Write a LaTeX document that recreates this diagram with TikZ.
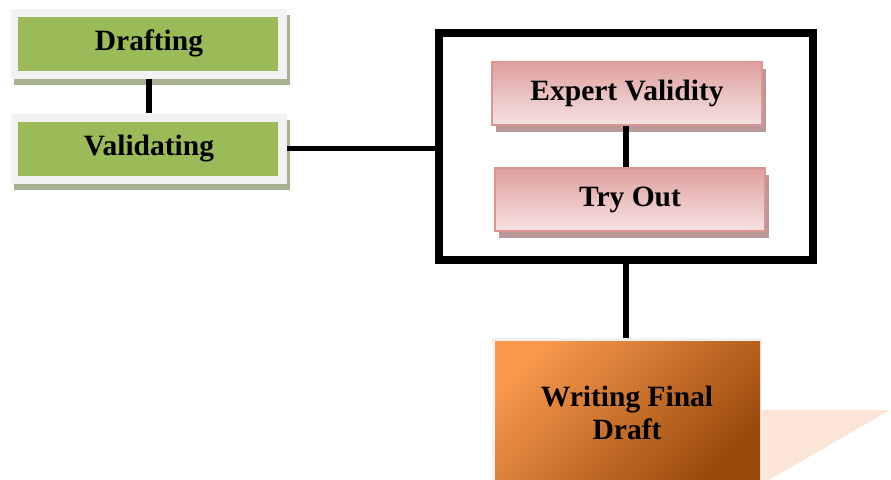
\documentclass[tikz,border=0pt]{standalone}
\usepackage{fontspec}
\setmainfont{Liberation Serif}
\usetikzlibrary{shadows}
\definecolor{framegray}{RGB}{242,242,242}
\definecolor{greenfill}{RGB}{155,187,89}
\definecolor{shadowgreen}{RGB}{168,176,146}
\definecolor{pinkborder}{RGB}{217,150,148}
\definecolor{pinktop}{RGB}{222,160,159}
\definecolor{pinkbot}{RGB}{246,226,226}
\definecolor{shadowpink}{RGB}{186,152,152}
\definecolor{orangelight}{RGB}{247,152,76}
\definecolor{orangedark}{RGB}{152,72,10}
\definecolor{peach}{RGB}{251,229,214}
\tikzset{
  lbl/.style={font=\bfseries\fontsize{29.5}{33}\selectfont, text=black, align=center},
  greenbox/.style={lbl, fill=framegray, draw=none, inner sep=0,
    minimum width=276, minimum height=70,
    drop shadow={shadow xshift=3pt, shadow yshift=-6pt, fill=shadowgreen, opacity=1},
    path picture={\fill[greenfill] ([xshift=7pt,yshift=-8pt]path picture bounding box.north west) rectangle ([xshift=-9pt,yshift=8pt]path picture bounding box.south east);}},
  pinkbox/.style={lbl, draw=pinkborder, line width=2pt, top color=pinktop, bottom color=pinkbot,
    inner sep=0, minimum width=270, minimum height=63,
    drop shadow={shadow xshift=4pt, shadow yshift=-7pt, fill=shadowpink, opacity=1}},
  finalbox/.style={lbl, fill=framegray, draw=none, inner sep=0,
    minimum width=270, minimum height=150,
    path picture={\shade[left color=orangelight, right color=orangedark, shading angle=45] ([xshift=3pt,yshift=-3pt]path picture bounding box.north west) rectangle ([xshift=-2pt,yshift=0pt]path picture bounding box.south east);}},
  grpbox/.style={draw=black, line width=7.5pt, inner sep=0, minimum width=374, minimum height=227},
  conn/.style={draw=black, line width=5.5pt}
}
\begin{document}
\begin{tikzpicture}[x=1pt,y=1pt]
\useasboundingbox (0,0) rectangle (891,-479);
\clip (0,0) rectangle (891,-479);
\fill[white] (0,0) rectangle (891,-479);
% shadow of final box
\fill[peach] (760,-410) -- (890,-410) -- (753,-489) -- (760,-489) -- cycle;
\node[greenbox] (draft) at (149,-43.5) {Drafting};
\node[greenbox] (valid) at (149,-148.5) {Validating};
\node[grpbox] (grp) at (626,-146.5) {};
\node[pinkbox] (expert) at (627,-93.5) {Expert Validity};
\node[pinkbox] (tryout) at (630,-199.5) {Try Out};
\node[finalbox] (final) at (627,-413) {Writing Final\\Draft};
\draw[conn] (draft.south) -- (valid.north);
\draw[conn] (valid.east) -- (valid.east -| grp.west);
\draw[conn] ([xshift=-1pt]expert.south) -- ([xshift=-1pt]expert.south |- tryout.north);
\draw[conn] (grp.south) -- (grp.south |- final.north);
\end{tikzpicture}
\end{document}
